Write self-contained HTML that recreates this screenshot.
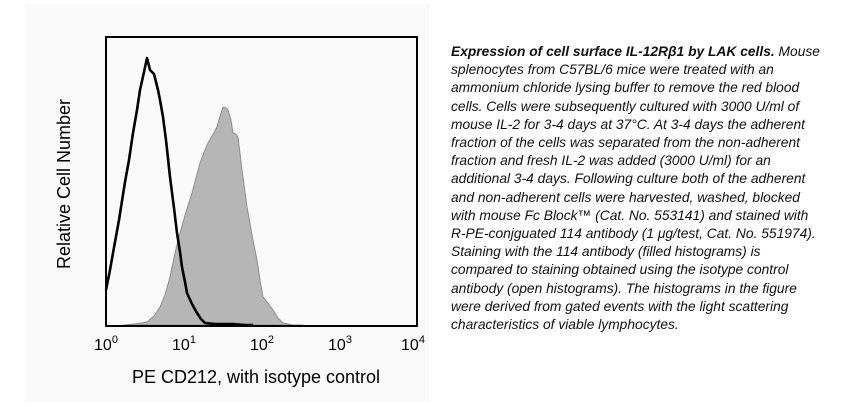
<!DOCTYPE html>
<html><head><meta charset="utf-8"><style>
body{margin:0;width:867px;height:406px;background:#fff;position:relative;overflow:hidden;font-family:"Liberation Sans",Arial,sans-serif}
#panel{position:absolute;left:25px;top:4px;width:404px;height:398px;background:#fafafa}
#txt{position:absolute;left:451px;top:43px;width:415px;font-size:13.8px;line-height:18.2px;font-style:italic;color:#111;white-space:nowrap}
</style></head><body>
<div id="panel"></div>
<svg width="867" height="406" style="position:absolute;left:0;top:0" font-family="Liberation Sans, Arial, sans-serif">
<polygon fill="#b6b6b6" stroke="#8f8f8f" stroke-width="1" points="123,325 135,324 147,322 154,316 160,307 165,295 170,277 175,253 180,233 186,212 192,193 196,178 200,163 204,152 208,143 212,136 217,127 220,116 223,107 226,108 228,110 231,120 233,133 236,134 238,137 242,170 247,207 252,235 257,260 260,280 263,297 268,303 273,310 278,318 283,323 293,325 303,325"/>
<polyline fill="none" stroke="#000" stroke-width="2.6" stroke-linejoin="round" points="106,290 110,270 113,253 119,220 125,182 129,160 133,133 137,110 140,90 144,72 147,58 150,70 152,72 154,74 155,78 158,90 160,100 163,117 166,140 170,177 174,208 177,233 180,252 182,267 185,282 187,293 192,304 197,313 201,319 205,323 215,324 233,324 245,325 253,325"/>
<rect x="106" y="37" width="311" height="289" fill="none" stroke="#000" stroke-width="2"/>
<g font-size="16" fill="#000" text-anchor="middle">
<text x="106" y="350">10<tspan dy="-7" font-size="11">0</tspan></text>
<text x="184" y="350">10<tspan dy="-7" font-size="11">1</tspan></text>
<text x="262" y="350">10<tspan dy="-7" font-size="11">2</tspan></text>
<text x="340" y="350">10<tspan dy="-7" font-size="11">3</tspan></text>
<text x="413" y="350">10<tspan dy="-7" font-size="11">4</tspan></text>
<text x="256" y="383" font-size="18">PE CD212, with isotype control</text>
<text transform="translate(70,184) rotate(-90)" font-size="18">Relative Cell Number</text>
</g>
</svg>
<div id="txt"><b>Expression of cell surface IL-12Rβ1 by LAK cells.</b> Mouse<br>splenocytes from C57BL/6 mice were treated with an<br>ammonium chloride lysing buffer to remove the red blood<br>cells. Cells were subsequently cultured with 3000 U/ml of<br>mouse IL-2 for 3-4 days at 37°C. At 3-4 days the adherent<br>fraction of the cells was separated from the non-adherent<br>fraction and fresh IL-2 was added (3000 U/ml) for an<br>additional 3-4 days. Following culture both of the adherent<br>and non-adherent cells were harvested, washed, blocked<br>with mouse Fc Block™ (Cat. No. 553141) and stained with<br>R-PE-conjguated 114 antibody (1 μg/test, Cat. No. 551974).<br>Staining with the 114 antibody (filled histograms) is<br>compared to staining obtained using the isotype control<br>antibody (open histograms). The histograms in the figure<br>were derived from gated events with the light scattering<br>characteristics of viable lymphocytes.</div>
</body></html>
